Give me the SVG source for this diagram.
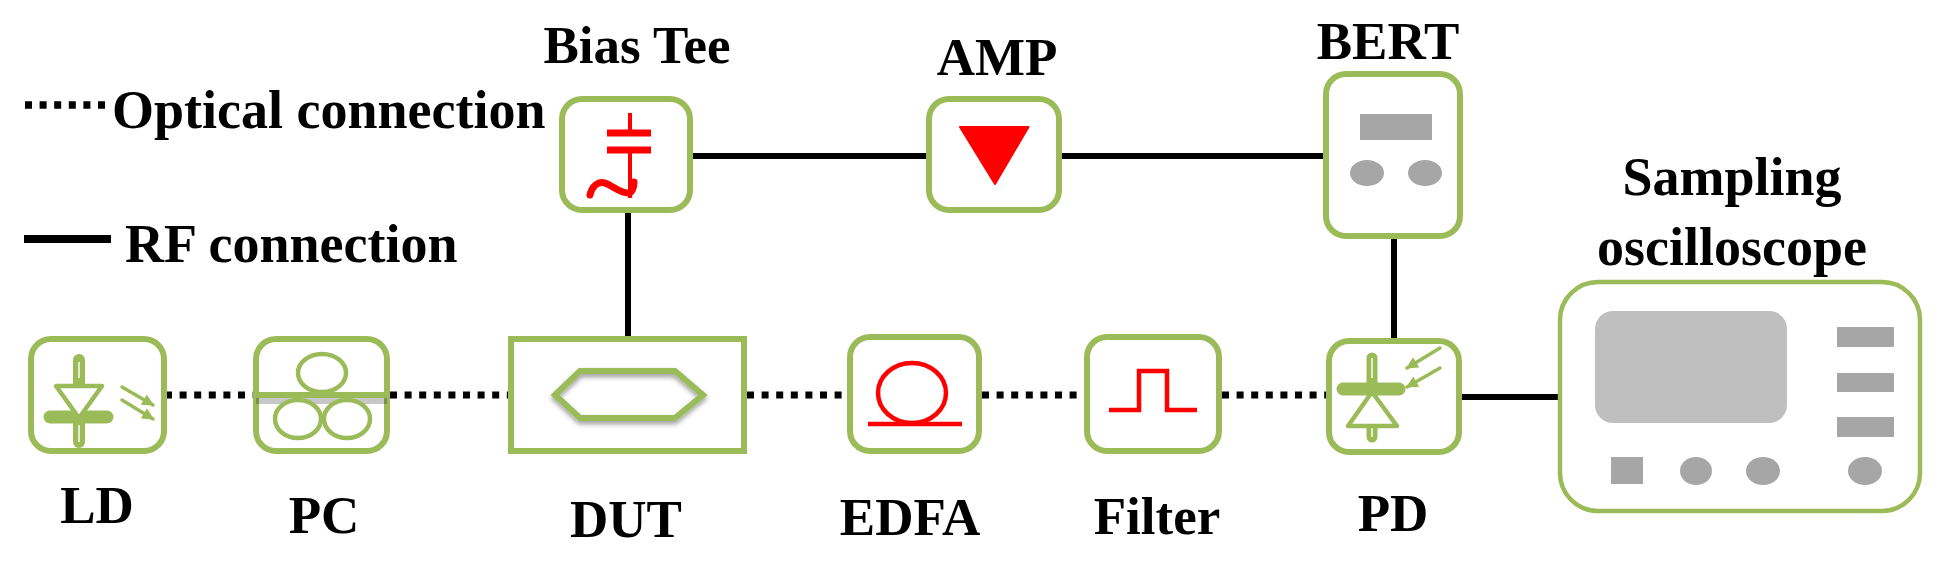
<svg xmlns="http://www.w3.org/2000/svg" width="1952" height="563" viewBox="0 0 1952 563">
<style>
.box{fill:#fff;stroke:#9bbb59;stroke-width:6}
.g{fill:none;stroke:#9bbb59;stroke-linecap:round;stroke-linejoin:round}
.core{fill:none;stroke:#e4edd0;stroke-width:2}
.tri{fill:#fff;stroke:#9bbb59;stroke-width:4.5;stroke-linejoin:round}
.roll{fill:#fff;stroke:#9bbb59;stroke-width:4.5}
.r{fill:none;stroke:#ff0000;stroke-width:4.5}
.k{fill:#a6a6a6}
.opt{fill:none;stroke:#000;stroke-width:7;stroke-dasharray:7 7.6}
.rf{fill:none;stroke:#000;stroke-width:6}
text{font-family:"Liberation Serif","Times New Roman",serif;font-weight:700;font-size:53px;fill:#000}
.m{text-anchor:middle}
.big{font-size:54px}
</style>
<defs>
<filter id="sh" x="-20%" y="-30%" width="140%" height="170%"><feDropShadow dx="0" dy="3" stdDeviation="2.5" flood-color="#000" flood-opacity=".4"/></filter>
<marker id="ah" viewBox="0 0 10 10" refX="9" refY="5" markerWidth="4" markerHeight="3.4" orient="auto"><path d="M0 0L10 5L0 10Z" fill="#9bbb59"/></marker>
</defs>
<g id="connectors">
<path class="opt" d="M165 395H253M390 395H510M747 395H847M982 395H1084M1222 395H1326"/>
<path class="rf" d="M693 156H926M1062 156H1323M628 213V336M1394 239V338"/>
<path class="rf" d="M1462 397H1560"/>
</g>
<g id="legend">
<path d="M25 105H106" fill="none" stroke="#000" stroke-width="7.5" stroke-dasharray="7 7.600"/>
<path d="M24 239H111" fill="none" stroke="#000" stroke-width="8"/>
<text class="big" x="112" y="128">Optical connection</text>
<text class="big" x="125" y="262">RF connection</text>
</g>
<g id="ld">
<rect class="box" x="31" y="339" width="133" height="112" rx="20"/>
<path class="g" stroke-width="12" d="M79 360V442"/>
<path class="core" d="M79 362V378M79 425V442"/>
<path class="g" stroke-width="13" d="M50 417H107"/>
<path class="tri" d="M56 386H102L79 418Z"/>
<path class="g" stroke-width="3.5" marker-end="url(#ah)" d="M122 387L153 405"/>
<path class="g" stroke-width="3.5" marker-end="url(#ah)" d="M122 400L153 419"/>
<text class="m" x="97" y="523">LD</text>
</g>
<g id="pc">
<rect class="box" x="256" y="339" width="131" height="112" rx="20"/>
<path d="M256 401H387" stroke="#000" stroke-opacity=".22" stroke-width="6" fill="none"/>
<ellipse class="roll" cx="322" cy="373" rx="24" ry="19"/>
<ellipse class="roll" cx="298" cy="419" rx="23" ry="19"/>
<ellipse class="roll" cx="347" cy="419" rx="23" ry="19"/>
<path d="M253 395H390" stroke="#9bbb59" stroke-width="6" fill="none"/>
<text class="m" x="324" y="533">PC</text>
</g>
<g id="dut">
<rect class="box" x="511" y="339" width="233" height="112"/>
<path d="M555 395L580 371H675L703 395L675 418H580Z" fill="none" stroke="#9bbb59" stroke-width="6" filter="url(#sh)"/>
<text class="m" x="626" y="537">DUT</text>
</g>
<g id="edfa">
<rect class="box" x="850" y="337" width="129" height="114" rx="20"/>
<ellipse cx="912" cy="393" rx="34" ry="30" class="r"/>
<path class="r" d="M868 424H962"/>
<text class="m" x="910" y="535">EDFA</text>
</g>
<g id="filter">
<rect class="box" x="1087" y="337" width="132" height="114" rx="20"/>
<path class="r" d="M1109 410H1139V371H1167V410H1197"/>
<text class="m" x="1157" y="534">Filter</text>
</g>
<g id="pd">
<rect class="box" x="1329" y="341" width="130" height="111" rx="20"/>
<path class="g" stroke-width="11" d="M1372 358V437"/>
<path class="core" d="M1372 358V378M1372 428V437"/>
<path class="tri" d="M1372 392L1397 426H1348Z"/>
<path class="g" stroke-width="13" d="M1343 389H1399"/>
<path class="g" stroke-width="3.5" marker-end="url(#ah)" d="M1440 348L1407 368"/>
<path class="g" stroke-width="3.5" marker-end="url(#ah)" d="M1440 368L1407 387"/>
<text class="m" x="1393" y="531">PD</text>
</g>
<g id="bias-tee">
<rect class="box" x="562" y="99" width="128" height="111" rx="20"/>
<path fill="none" stroke="#ff0000" stroke-width="4" d="M630 113V133M630 150V198"/>
<path fill="none" stroke="#ff0000" stroke-width="7" d="M607 133H651M607 150H651"/>
<path fill="none" stroke="#ff0000" stroke-width="7" stroke-linecap="round" d="M590 195C592 186 598 181 605 183C613 186 620 193 628 193C632 193 634 188 634 182"/>
<text class="m" x="637" y="63">Bias Tee</text>
</g>
<g id="amp">
<rect class="box" x="929" y="99" width="130" height="111" rx="20"/>
<path d="M960 127H1028.500L995 184Z" fill="#ff0000" stroke="#ff0000" stroke-width="2" stroke-linejoin="round"/>
<text class="m" x="997" y="75">AMP</text>
</g>
<g id="bert">
<rect class="box" x="1326" y="74" width="134" height="162" rx="20"/>
<rect class="k" x="1360" y="114" width="72" height="26"/>
<ellipse class="k" cx="1367" cy="173" rx="17" ry="13"/>
<ellipse class="k" cx="1425" cy="173" rx="17" ry="13"/>
<text class="m" x="1388" y="59">BERT</text>
</g>
<g id="sampling-oscilloscope">
<rect x="1560" y="282" width="360" height="229" rx="38" fill="#fff" stroke="#9bbb59" stroke-width="4.500"/>
<rect x="1595" y="311" width="192" height="112" rx="18" fill="#bfbfbf"/>
<rect class="k" x="1837" y="327" width="57" height="20"/>
<rect class="k" x="1837" y="373" width="57" height="19"/>
<rect class="k" x="1837" y="417" width="57" height="20"/>
<rect class="k" x="1611" y="457" width="32" height="27"/>
<ellipse class="k" cx="1696" cy="471" rx="16" ry="14"/>
<ellipse class="k" cx="1763" cy="471" rx="17" ry="14"/>
<ellipse class="k" cx="1865" cy="471" rx="17" ry="14"/>
<text class="m big" x="1732" y="195">Sampling</text>
<text class="m big" x="1732" y="265">oscilloscope</text>
</g>
</svg>
